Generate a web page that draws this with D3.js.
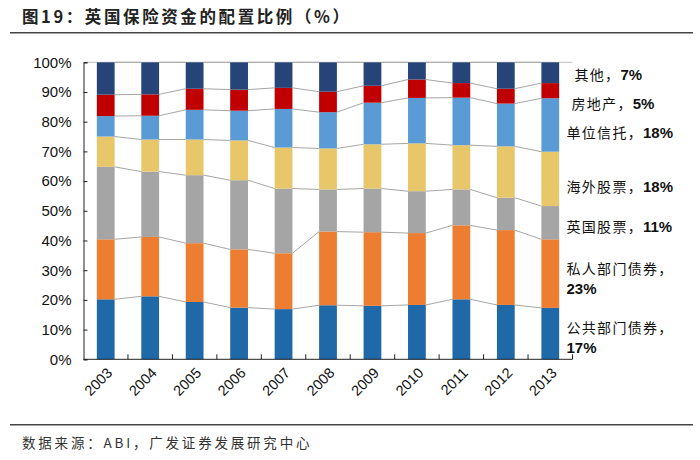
<!DOCTYPE html>
<html><head><meta charset="utf-8">
<script src="https://cdn.jsdelivr.net/npm/d3@7"></script>
<style>body{margin:0;background:#fff}svg{display:block}</style>
</head><body>
<svg id="c" width="700" height="460"></svg>
<script>
const years = ["2003","2004","2005","2006","2007","2008","2009","2010","2011","2012","2013"];
const seriesNames = ["公共部门债券","私人部门债券","英国股票","海外股票","单位信托","房地产","其他"];
const publicBonds  = [20.2,21.2,19.3,17.4,16.9,18.2,18.0,18.3,20.2,18.3,17.3];
const privateBonds = [20.2,20.0,19.8,19.6,18.8,24.8,24.8,24.2,24.9,25.2,23.1];
const ukEquity     = [24.4,22.0,22.9,23.3,21.8,14.2,14.7,14.1,12.1,10.9,11.2];
const overseasEq   = [10.2,10.8,12.0,13.4,13.8,13.8,14.9,16.1,14.9,17.3,18.3];
const unitTrusts   = [6.9,8.0,10.0,10.0,13.0,12.2,14.0,15.3,16.0,14.4,18.0];
const property     = [7.2,7.2,7.1,7.1,7.1,6.9,5.7,6.2,4.9,5.0,5.1];
const other        = [10.9,10.8,8.9,9.2,8.6,9.9,7.9,5.8,7.0,8.9,7.0];
const lastLabels = ["17%","23%","11%","18%","18%","5%","7%"];
const yTicks = [0,10,20,30,40,50,60,70,80,90,100];
const colors = ["#1F69A9","#ED7D31","#A5A5A5","#E8C66A","#5B9BD5","#C00000","#264478"];

const seriesVals = [publicBonds,privateBonds,ukEquity,overseasEq,unitTrusts,property,other];
const keys = seriesNames;
const table = years.map((y,i)=>{const o={year:y}; keys.forEach((k,j)=>o[k]=seriesVals[j][i]); return o;});
const stacked = d3.stack().keys(keys)(table);

const svg = d3.select("#c");
const L=83.5, R=572.5, T=62.3, B=359.3;
const x = d3.scaleBand().domain(years).range([L,R]).paddingInner(0.6).paddingOuter(0.3);
const xb = d3.scaleBand().domain(years).range([L,R]);
const y = d3.scaleLinear().domain([0,100]).range([B,T]);

// title
svg.append("text").attr("x",22).attr("y",23)
  .attr("font-family","'Noto Sans CJK SC'").attr("font-weight","bold").attr("font-size",16.5)
  .attr("letter-spacing","2.6px").attr("fill","#222")
  .text("图19：英国保险资金的配置比例（%）");
svg.append("line").attr("x1",10).attr("x2",693).attr("y1",32.7).attr("y2",32.7)
  .attr("stroke","#444").attr("stroke-width",1.5);

// top border of plot
svg.append("line").attr("x1",L).attr("x2",R).attr("y1",y(100)).attr("y2",y(100))
  .attr("stroke","#BFBFBF").attr("stroke-width",1);

// bars
const g = svg.append("g");
stacked.forEach((s,j)=>{
  g.selectAll(null).data(s).join("rect")
    .attr("x",d=>x(d.data.year)).attr("width",x.bandwidth())
    .attr("y",d=>y(d[1])).attr("height",d=>y(d[0])-y(d[1]))
    .attr("fill",colors[j]);
});
// series lines
stacked.forEach((s)=>{
  for(let i=0;i<s.length-1;i++){
    g.append("line")
      .attr("x1",x(years[i])+x.bandwidth()).attr("y1",y(s[i][1]))
      .attr("x2",x(years[i+1])).attr("y2",y(s[i+1][1]))
      .attr("stroke","#A6A6A6").attr("stroke-width",1);
  }
});

// axes
const yAxis = d3.axisLeft(y).tickValues(yTicks).tickSize(-4).tickPadding(12).tickFormat(d=>d+"%");
const ya = svg.append("g").attr("transform",`translate(${L},0)`).call(yAxis);
ya.select(".domain").attr("stroke","#222");
ya.selectAll(".tick line").attr("stroke","#222");
ya.selectAll("text").attr("font-family","'Liberation Sans',Arial").attr("font-size",15).attr("fill","#111");

const xa = svg.append("g").attr("transform",`translate(0,${B})`);
xa.append("line").attr("x1",L).attr("x2",R).attr("stroke","#222");
xa.selectAll("line.t").data(years.slice(1).concat(["end"])).join("line").attr("class","t")
  .attr("x1",d=>d==="end"?R:xb(d)).attr("x2",d=>d==="end"?R:xb(d))
  .attr("y1",0).attr("y2",-5).attr("stroke","#222");
xa.selectAll("text").data(years).join("text")
  .attr("transform",d=>`translate(${x(d)+x.bandwidth()/2+4},11) rotate(-45)`)
  .attr("text-anchor","end").attr("dominant-baseline","central")
  .attr("font-family","'Liberation Sans',Arial").attr("font-size",14.5).attr("fill","#111")
  .text(d=>d);

// right labels
const rl = [
  {lines:[[seriesNames[6]+"，",lastLabels[6]]], p:96.1, dx:3},
  {lines:[[seriesNames[5]+"，",lastLabels[5]]], p:86.4, dx:0},
  {lines:[[seriesNames[4]+"，",lastLabels[4]]], p:76.6, dx:-5},
  {lines:[[seriesNames[3]+"，",lastLabels[3]]], p:58.4, dx:-5},
  {lines:[[seriesNames[2]+"，",lastLabels[2]]], p:45.0, dx:-5},
  {lines:[[seriesNames[1]+"，",""],["",lastLabels[1]]], p:30.6, dx:-5},
  {lines:[[seriesNames[0]+"，",""],["",lastLabels[0]]], p:11.0, dx:-5}
];
rl.forEach(r=>{
  r.lines.forEach((ln,k)=>{
    const t = svg.append("text").attr("x",R-1+r.dx).attr("y",y(r.p)+k*20)
      .attr("dominant-baseline","central").attr("fill","#111");
    if(ln[0]) t.append("tspan").attr("font-family","'Noto Sans CJK SC'").attr("font-size",14)
      .attr("letter-spacing","1.3px").text(ln[0]);
    if(ln[1]) t.append("tspan").attr("font-family","'Liberation Sans',Arial").attr("font-weight","bold")
      .attr("font-size",15).text(ln[1]);
  });
});

// footer
svg.append("line").attr("x1",10).attr("x2",693).attr("y1",424.7).attr("y2",424.7)
  .attr("stroke","#444").attr("stroke-width",1.5);
svg.append("text").attr("x",22).attr("y",442).attr("dominant-baseline","central")
  .attr("font-family","'Noto Sans CJK SC'").attr("font-size",13.5).attr("letter-spacing","2.8px").attr("fill","#333")
  .text("数据来源：ABI，广发证券发展研究中心");
</script>
</body></html>
